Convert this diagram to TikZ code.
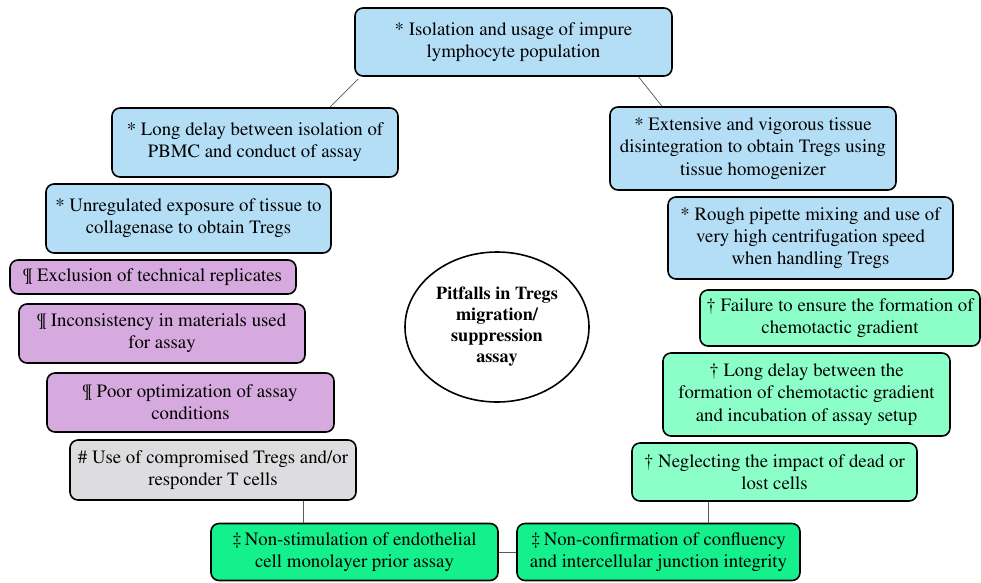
\documentclass[tikz,border=0pt]{standalone}
\usepackage[T1]{fontenc}
\renewcommand{\rmdefault}{ptm}
\usetikzlibrary{calc,shapes.geometric}
\definecolor{cblue}{RGB}{179,222,246}
\definecolor{cpurple}{RGB}{214,170,222}
\definecolor{cgray}{RGB}{221,221,223}
\definecolor{cmint}{RGB}{140,255,200}
\definecolor{cgreen}{RGB}{20,240,140}
\tikzset{
  pbox/.style={draw=black, line width=1.6pt, rounded corners=8pt, align=center,
    font=\rmfamily\fontsize{18.8}{22.3}\selectfont, inner sep=0pt},
  conn/.style={draw=black!65, line width=0.7pt}
}
\begin{document}
\begin{tikzpicture}[x=1pt,y=-1pt]
\useasboundingbox (0,0) rectangle (981,582);
\node[pbox, fill=cblue, minimum width=317pt, minimum height=68pt] (top) at (513.5,42) {* Isolation and usage of impure\\lymphocyte population};
\node[pbox, fill=cblue, minimum width=286pt, minimum height=69pt] (pbmc) at (255,142.5) {* Long delay between isolation of\\PBMC and conduct of assay};
\node[pbox, fill=cblue, minimum width=285pt, minimum height=69pt] (unreg) at (188.5,218.5) {* Unregulated exposure of tissue to\\collagenase to obtain Tregs};
\node[pbox, fill=cpurple, minimum width=286pt, minimum height=34pt] (excl) at (153,277) {\P{} Exclusion of technical replicates};
\node[pbox, fill=cpurple, minimum width=286pt, minimum height=59pt] (incons) at (162,333.5) {\P{} Inconsistency in materials used\\for assay};
\node[pbox, fill=cpurple, minimum width=287pt, minimum height=59pt] (poor) at (190.5,402.5) {\P{} Poor optimization of assay\\conditions};
\node[pbox, fill=cgray, minimum width=286pt, minimum height=60pt] (comp) at (213,470) {\# Use of compromised Tregs and/or\\responder T cells};
\node[pbox, fill=cgreen, minimum width=287pt, minimum height=57pt] (nonstim) at (354.5,552) {\ddag\,Non-stimulation of endothelial\\cell monolayer prior assay};
\node[pbox, fill=cgreen, minimum width=283pt, minimum height=57pt] (nonconf) at (658.5,552) {\ddag\,Non-confirmation of confluency\\and intercellular junction integrity};
\node[pbox, fill=cmint, minimum width=285pt, minimum height=58pt] (negl) at (774.5,472) {\dag{} Neglecting the impact of dead or\\lost cells};
\node[pbox, fill=cmint, minimum width=287pt, minimum height=83pt] (chem) at (806.5,394.5) {\dag{} Long delay between the\\formation of chemotactic gradient\\and incubation of assay setup};
\node[pbox, fill=cmint, minimum width=280pt, minimum height=56pt] (fail) at (840,318) {\dag{} Failure to ensure the formation of\\chemotactic gradient};
\node[pbox, fill=cblue, minimum width=285pt, minimum height=82pt] (rough) at (810.5,238) {* Rough pipette mixing and use of\\very high centrifugation speed\\when handling Tregs};
\node[pbox, fill=cblue, minimum width=286pt, minimum height=83pt] (ext) at (753,148.5) {* Extensive and vigorous tissue\\disintegration to obtain Tregs using\\tissue homogenizer};
\node[draw=black, line width=1.6pt, ellipse, minimum width=184pt, minimum height=150pt, inner sep=0pt, align=center,
  font=\rmfamily\bfseries\fontsize{18.2}{21}\selectfont] (hub) at (497,327) {Pitfalls in Tregs\\migration/\\suppression\\assay};
\draw[conn] ([xshift=4pt,yshift=-2pt]top.south west) -- ([xshift=75pt]pbmc.north);
\draw[conn] ([xshift=125pt]top.south) -- ([xshift=-91pt]ext.north);
\draw[conn] ([xshift=90pt]comp.south) -- ([xshift=90pt]comp.south |- nonstim.north);
\draw[conn] ([xshift=-66pt]negl.south) -- ([xshift=-66pt]negl.south |- nonconf.north);
\draw[conn] (nonstim.east) -- (nonconf.west);
\end{tikzpicture}
\end{document}
